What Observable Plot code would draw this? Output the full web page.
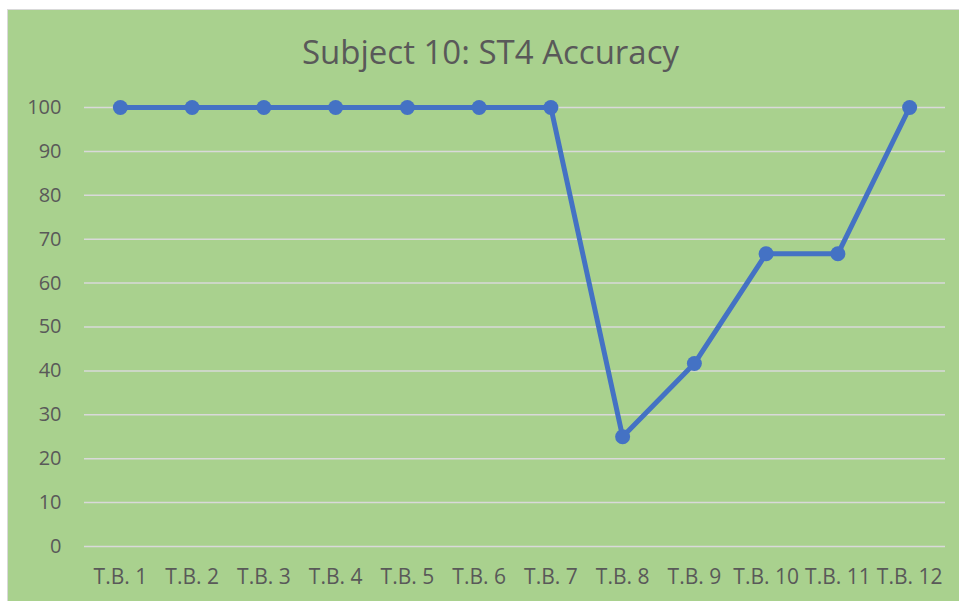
<!DOCTYPE html>
<html>
<head>
<meta charset="utf-8">
<script src="https://cdn.jsdelivr.net/npm/d3@7"></script>
<script src="https://cdn.jsdelivr.net/npm/@observablehq/plot@0.6"></script>
<style>
  html, body { margin: 0; padding: 0; background: #ffffff; }
  #frame { position: absolute; left: 7px; top: 9px; width: 952px; height: 592px; background: #a9d18e; border-left: 1px solid #d9d9d9; border-top: 1px solid #d9d9d9; box-sizing: border-box; font-family: "Open Sans", sans-serif; }
  #title { height: 75px; line-height: 84px; text-align: center; font-size: 33px; color: #595959; padding-left: 14px; }
</style>
</head>
<body>
<div id="frame"><div id="title">Subject 10: ST4 Accuracy</div><div id="chart"></div></div>
<script>
const categories = ["T.B. 1","T.B. 2","T.B. 3","T.B. 4","T.B. 5","T.B. 6","T.B. 7","T.B. 8","T.B. 9","T.B. 10","T.B. 11","T.B. 12"];
const accuracy = [100, 100, 100, 100, 100, 100, 100, 25, 41.67, 66.67, 66.67, 100];
const yTicks = [0, 10, 20, 30, 40, 50, 60, 70, 80, 90, 100];

const data = categories.map((c, i) => ({cat: c, value: accuracy[i]}));

const plot = Plot.plot({
  width: 951,
  height: 516,
  marginLeft: 76,
  marginRight: 14,
  marginTop: 22,
  marginBottom: 55,
  style: { background: "transparent", fontFamily: "Open Sans, sans-serif", fontSize: "20px", color: "#595959", overflow: "visible" },
  x: { type: "point", domain: categories, padding: 0.5, round: false, label: null },
  y: { domain: [0, 100], label: null },
  marks: [
    Plot.ruleY(yTicks, { stroke: "#d9d9d9", strokeWidth: 1.5 }),
    Plot.axisY({ ticks: yTicks, tickSize: 0, tickPadding: 23, fill: "#595959", fontSize: 20, label: null }),
    Plot.axisX({ tickSize: 0, tickPadding: 23, fill: "#595959", fontSize: 21, label: null }),
    Plot.line(data, { x: "cat", y: "value", stroke: "#4472c4", strokeWidth: 5, strokeLinejoin: "round" }),
    Plot.dot(data, { x: "cat", y: "value", r: 7.5, fill: "#4472c4", stroke: "none" })
  ]
});
document.getElementById("chart").appendChild(plot);
</script>
</body>
</html>
